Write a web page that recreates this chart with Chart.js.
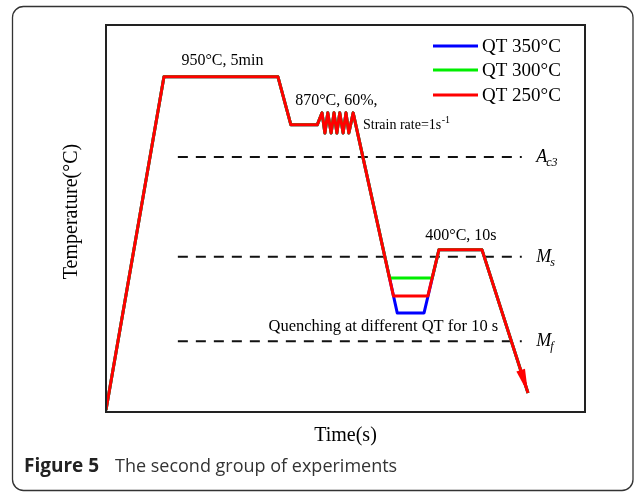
<!DOCTYPE html>
<html>
<head>
<meta charset="utf-8">
<script src="https://cdn.jsdelivr.net/npm/chart.js@4.4.1/dist/chart.umd.min.js"></script>
<style>
html,body{margin:0;padding:0;background:#fff;}
canvas{display:block;}
</style>
</head>
<body>
<canvas id="c" width="635" height="493"></canvas>
<script>
// Schematic heat-treatment route (arbitrary time / temperature units, 0-100)
const seriesNames = ["QT 350°C", "QT 300°C", "QT 250°C"];
const seriesColors = ["#0000ff", "#00ee00", "#ff0000"];

const timeQT350 = [0, 12.1, 35.9, 38.6, 44.1, 45.1, 45.7, 46.3, 47.0, 47.6, 48.2, 48.8, 49.5, 50.1, 50.7, 51.6, 60.8, 66.4, 69.5, 78.5, 88.1];
const tempQT350 = [0.5, 86.6, 86.6, 74.2, 74.2, 77.3, 72.1, 77.3, 72.1, 77.3, 72.1, 77.3, 72.1, 77.3, 72.1, 77.3, 25.6, 25.6, 41.9, 41.9, 4.9];

const timeQT300 = [0, 12.1, 35.9, 38.6, 44.1, 45.1, 45.7, 46.3, 47.0, 47.6, 48.2, 48.8, 49.5, 50.1, 50.7, 51.6, 59.2, 68.1, 69.5, 78.5, 88.1];
const tempQT300 = [0.5, 86.6, 86.6, 74.2, 74.2, 77.3, 72.1, 77.3, 72.1, 77.3, 72.1, 77.3, 72.1, 77.3, 72.1, 77.3, 34.6, 34.6, 41.9, 41.9, 4.9];

const timeQT250 = [0, 12.1, 35.9, 38.6, 44.1, 45.1, 45.7, 46.3, 47.0, 47.6, 48.2, 48.8, 49.5, 50.1, 50.7, 51.6, 60.0, 67.2, 69.5, 78.5, 88.1];
const tempQT250 = [0.5, 86.6, 86.6, 74.2, 74.2, 77.3, 72.1, 77.3, 72.1, 77.3, 72.1, 77.3, 72.1, 77.3, 72.1, 77.3, 30.0, 30.0, 41.9, 41.9, 4.9];

// Critical temperature reference lines
const refNames = ["Ac3", "Ms", "Mf"];
const refTemps = [65.9, 40.1, 18.3];
const refTimeStart = 15.0;
const refTimeEnd = 86.8;

// Text annotations [text, time, temp]
const annotations = [
  ["950°C, 5min", 24.3, 90.7],
  ["870°C, 60%,", 48.1, 80.4],
  ["400°C, 10s", 74.1, 45.5],
  ["Quenching at different QT for 10 s", 57.9, 21.95]
];

function pts(xs, ys){ return xs.map((x,i)=>({x:x, y:ys[i]})); }

const datasets = [];
const times = [timeQT350, timeQT300, timeQT250];
const temps = [tempQT350, tempQT300, tempQT250];
for (let i=0;i<3;i++){
  datasets.push({label:seriesNames[i], data:pts(times[i], temps[i]), borderColor:seriesColors[i],
    borderWidth:3, pointRadius:0, tension:0, fill:false, order:3-i, borderJoinStyle:'round'});
}
refTemps.forEach((t,i)=>{
  datasets.push({label:refNames[i], data:[{x:refTimeStart,y:t},{x:refTimeEnd,y:t}], borderColor:'#111',
    borderWidth:2, borderDash:[10,8], pointRadius:0, tension:0, fill:false, order:10});
});

const SERIF = '"Liberation Serif", "Times New Roman", serif';

const drawPlugin = {
  id:'drawExtras',
  beforeDraw(chart){
    const ctx = chart.ctx;
    ctx.save();
    ctx.fillStyle='#fff';
    ctx.fillRect(0,0,chart.width,chart.height);
    // outer rounded frame
    ctx.strokeStyle='#333';
    ctx.lineWidth=1.3;
    const l=12.5,t=6.5,r=633,b=490.5,rad=11;
    ctx.beginPath();
    ctx.moveTo(l+rad,t); ctx.lineTo(r-rad,t); ctx.arcTo(r,t,r,t+rad,rad);
    ctx.lineTo(r,b-rad); ctx.arcTo(r,b,r-rad,b,rad);
    ctx.lineTo(l+rad,b); ctx.arcTo(l,b,l,b-rad,rad);
    ctx.lineTo(l,t+rad); ctx.arcTo(l,t,l+rad,t,rad);
    ctx.closePath(); ctx.stroke();
    ctx.restore();
  },
  afterDraw(chart){
    const ctx = chart.ctx, xs = chart.scales.x, ys = chart.scales.y, a = chart.chartArea;
    ctx.save();
    // plot box
    ctx.strokeStyle='#222'; ctx.lineWidth=2;
    ctx.strokeRect(a.left, a.top, a.right-a.left, a.bottom-a.top);
    // arrow head on final segment of red line
    const d = chart.data.datasets[2].data;
    const p1 = d[d.length-2], p2 = d[d.length-1];
    const x1=xs.getPixelForValue(p1.x), y1=ys.getPixelForValue(p1.y);
    const x2=xs.getPixelForValue(p2.x), y2=ys.getPixelForValue(p2.y);
    const ang=Math.atan2(y2-y1,x2-x1), L=24, W=4.5;
    const bx=x2-L*Math.cos(ang), by=y2-L*Math.sin(ang);
    ctx.fillStyle='#ff0000';
    ctx.beginPath();
    ctx.moveTo(x2,y2);
    ctx.lineTo(bx+W*Math.sin(ang), by-W*Math.cos(ang));
    ctx.lineTo(bx-W*Math.sin(ang), by+W*Math.cos(ang));
    ctx.closePath(); ctx.fill();

    ctx.fillStyle='#000';
    ctx.textBaseline='middle';
    // annotations
    ctx.textAlign='center';
    annotations.forEach((an,i)=>{
      ctx.font=(i===3?'16.5px ':'16px ')+SERIF;
      ctx.fillText(an[0], xs.getPixelForValue(an[1]), ys.getPixelForValue(an[2]));
    });
    // strain rate with superscript
    ctx.textAlign='left';
    ctx.font='14px '+SERIF;
    let sx = xs.getPixelForValue(53.65), sy = ys.getPixelForValue(74.0);
    const s1='Strain rate=1s';
    ctx.fillText(s1, sx, sy);
    const w1=ctx.measureText(s1).width;
    ctx.font='10px '+SERIF;
    ctx.fillText('-1', sx+w1+0.5, sy-5);

    // reference line labels
    const subs=['c3','s','f'];
    refTemps.forEach((t,i)=>{
      const px = xs.getPixelForValue(89.8), py = ys.getPixelForValue(t);
      ctx.font='italic 18px '+SERIF;
      const main = refNames[i].charAt(0);
      ctx.fillText(main, px, py);
      const mw = ctx.measureText(main).width;
      ctx.font='italic 12px '+SERIF;
      ctx.fillText(subs[i], px+mw-1, py+6);
    });

    // legend
    ctx.font='19px '+SERIF;
    const legY=[46,70,95];
    for(let i=0;i<3;i++){
      ctx.strokeStyle=seriesColors[i]; ctx.lineWidth=3;
      ctx.beginPath(); ctx.moveTo(433,legY[i]); ctx.lineTo(478,legY[i]); ctx.stroke();
      ctx.fillStyle='#000';
      ctx.fillText(seriesNames[i], 482, legY[i]+1);
    }

    // axis titles
    ctx.textAlign='center';
    ctx.font='20px '+SERIF;
    ctx.fillText('Time(s)', (a.left+a.right)/2, 436);
    ctx.save();
    ctx.translate(72,(a.top+a.bottom)/2-7);
    ctx.rotate(-Math.PI/2);
    ctx.fillText('Temperature(°C)',0,0);
    ctx.restore();

    // caption
    ctx.textAlign='left';
    ctx.fillStyle='#222';
    ctx.font='bold 19px "Open Sans", "Noto Sans", sans-serif';
    ctx.fillText('Figure 5', 24, 467);
    ctx.fillStyle='#333';
    ctx.font='18px "Open Sans", "Noto Sans", sans-serif';
    ctx.fillText('The second group of experiments', 115, 467);
    ctx.restore();
  }
};

new Chart(document.getElementById('c'), {
  type:'line',
  data:{datasets:datasets},
  options:{
    responsive:false, animation:false, devicePixelRatio:1,
    layout:{padding:{left:106,top:25,right:50,bottom:81}},
    plugins:{legend:{display:false}, tooltip:{enabled:false}},
    scales:{
      x:{type:'linear', min:0, max:100, display:false},
      y:{type:'linear', min:0, max:100, display:false}
    }
  },
  plugins:[drawPlugin]
});
</script>
</body>
</html>
